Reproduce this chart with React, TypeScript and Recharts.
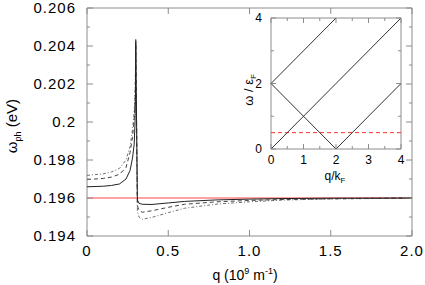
import React from 'react';
import { LineChart, Line, XAxis, YAxis, ReferenceLine, ReferenceArea } from 'recharts';

// q in 1e9 m^-1, omega_ph in eV
const qGrid = [0, 0.1, 0.15, 0.2, 0.24, 0.265, 0.28, 0.29, 0.295, 0.298, 0.3, 0.31, 0.32, 0.34, 0.4, 0.5, 0.6, 0.8, 1.0, 1.2, 1.5, 2.0];
const omegaSolid = [0.19659, 0.19662, 0.19666, 0.19674, 0.197, 0.19745, 0.1981, 0.1988, 0.1998, 0.2012, 0.2042, 0.1959, 0.19572, 0.19567, 0.19566, 0.19574, 0.19582, 0.1959, 0.19594, 0.19597, 0.19599, 0.196];
const omegaDashed = [0.19697, 0.19703, 0.1971, 0.19725, 0.1976, 0.1984, 0.1992, 0.2001, 0.2009, 0.202, 0.2043, 0.1956, 0.19535, 0.19525, 0.19533, 0.19551, 0.19567, 0.1958, 0.19587, 0.19592, 0.19596, 0.196];
const omegaDashDot = [0.19719, 0.19727, 0.19737, 0.19756, 0.198, 0.1987, 0.1996, 0.2005, 0.2013, 0.2026, 0.2044, 0.1953, 0.195, 0.19488, 0.19498, 0.19523, 0.19546, 0.19568, 0.1958, 0.19589, 0.19595, 0.19599];
const bareLevel = 0.196;

const xTicks = [0, 0.5, 1, 1.5, 2];
const xTickLabels = ['0', '0.5', '1.0', '1.5', '2.0'];
const yMajorTicks = [0.194, 0.196, 0.198, 0.2, 0.202, 0.204, 0.206];
const yTickLabels = ['0.194', '0.196', '0.198', '0.2', '0.202', '0.204', '0.206'];
const yMinorTicks = [0.195, 0.197, 0.199, 0.201, 0.203, 0.205];

// inset: omega/eF vs q/kF, continuum boundaries
const insetSegQ = [[0, 2], [0, 4], [2, 4], [0, 2]];
const insetSegW = [[2, 4], [0, 4], [0, 2], [2, 0]];
const insetXTicks = [0, 1, 2, 3, 4];
const insetXMinor = [0.5, 1.5, 2.5, 3.5];
const insetYTicks = [0, 2, 4];
const insetYMinor = [1, 3];
const phononLevel = 0.5;

const rows = qGrid.map((q, i) => ({ q, s: omegaSolid[i], d: omegaDashed[i], dd: omegaDashDot[i] }));
const segments = insetSegQ.map((qs, i) => qs.map((q, j) => ({ q, w: insetSegW[i][j] })));

const FONT = '"Liberation Sans", Arial, Helvetica, sans-serif';
const AXIS = '#8c8c8c';
const P = { left: 87, right: 412, top: 8, bottom: 236 };
const IP = { left: 41, right: 171, top: 8, bottom: 139 };

const near = (arr: number[], v: number) => arr.findIndex((a) => Math.abs(a - v) < 1e-9);

const MainXTick = (props: any) => {
  const { x, payload } = props;
  const i = near(xTicks, payload.value);
  return (
    <g>
      <line x1={x} x2={x} y1={P.bottom} y2={P.bottom - 6} stroke={AXIS} />
      <line x1={x} x2={x} y1={P.top} y2={P.top + 6} stroke={AXIS} />
      <text x={x} y={256} textAnchor="middle" fontSize={15} letterSpacing={1} fontFamily={FONT} fill="#000">
        {xTickLabels[i]}
      </text>
    </g>
  );
};

const MainYTick = (props: any) => {
  const { y, payload } = props;
  const i = near(yMajorTicks, payload.value);
  const len = i >= 0 ? 6 : 3;
  return (
    <g>
      <line x1={P.left} x2={P.left + len} y1={y} y2={y} stroke={AXIS} />
      <line x1={P.right} x2={P.right - len} y1={y} y2={y} stroke={AXIS} />
      {i >= 0 && (
        <text x={76} y={y} dy="0.36em" textAnchor="end" fontSize={15} letterSpacing={1} fontFamily={FONT} fill="#000">
          {yTickLabels[i]}
        </text>
      )}
    </g>
  );
};

const InsetXTick = (props: any) => {
  const { x, payload } = props;
  const major = near(insetXTicks, payload.value) >= 0;
  const len = major ? 5 : 3;
  return (
    <g>
      <line x1={x} x2={x} y1={IP.bottom} y2={IP.bottom - len} stroke={AXIS} />
      <line x1={x} x2={x} y1={IP.top} y2={IP.top + len} stroke={AXIS} />
      {major && (
        <text x={x} y={154} textAnchor="middle" fontSize={12} fontFamily={FONT} fill="#000">
          {payload.value}
        </text>
      )}
    </g>
  );
};

const InsetYTick = (props: any) => {
  const { y, payload } = props;
  const major = near(insetYTicks, payload.value) >= 0;
  const len = major ? 5 : 3;
  return (
    <g>
      <line x1={IP.left} x2={IP.left + len} y1={y} y2={y} stroke={AXIS} />
      <line x1={IP.right} x2={IP.right - len} y1={y} y2={y} stroke={AXIS} />
      {major && (
        <text x={32} y={y} dy="0.36em" textAnchor="end" fontSize={12} fontFamily={FONT} fill="#000">
          {payload.value}
        </text>
      )}
    </g>
  );
};

const mainXLabel = () => (
  <text x={245} y={280} textAnchor="middle" fontSize={14} fontFamily={FONT} fill="#000">
    q (10<tspan fontSize={9} dy={-6}>9</tspan>
    <tspan dy={6}> m</tspan>
    <tspan fontSize={9} dy={-6}>-1</tspan>
    <tspan dy={6}>)</tspan>
  </text>
);

const mainYLabel = () => (
  <text x={17} y={126} transform="rotate(-90, 17, 126)" textAnchor="middle" fontSize={15} fontFamily={FONT} fill="#000">
    ω<tspan fontSize={9} dy={4}>ph</tspan>
    <tspan dy={-4}> (eV)</tspan>
  </text>
);

const insetXLabel = () => (
  <text x={105} y={170} textAnchor="middle" fontSize={12} fontFamily={FONT} fill="#000">
    q/k<tspan fontSize={8} dy={3}>F</tspan>
  </text>
);

const insetYLabel = () => (
  <text x={23} y={80} transform="rotate(-90, 23, 80)" textAnchor="middle" fontSize={13} fontFamily={FONT} fill="#000">
    ω / ε<tspan fontSize={8} dy={3}>F</tspan>
  </text>
);

export default function App() {
  return (
    <div style={{ position: 'absolute', left: 0, top: 0, width: 425, height: 285, background: '#fff' }}>
      <LineChart width={425} height={285} data={rows} margin={{ top: 8, right: 13, left: 0, bottom: 0 }}>
        <XAxis
          dataKey="q"
          type="number"
          domain={[0, 2]}
          ticks={xTicks}
          interval={0}
          height={49}
          axisLine={false}
          tickLine={false}
          tick={<MainXTick />}
          label={mainXLabel}
        />
        <YAxis
          type="number"
          domain={[0.194, 0.206]}
          ticks={[...yMajorTicks, ...yMinorTicks]}
          interval={0}
          width={87}
          allowDataOverflow
          axisLine={false}
          tickLine={false}
          tick={<MainYTick />}
          label={mainYLabel}
        />
        <ReferenceArea x1={0} x2={2} y1={0.194} y2={0.206} fill="none" stroke={AXIS} strokeWidth={1} ifOverflow="visible" />
        <ReferenceLine y={bareLevel} stroke="#ff4545" strokeWidth={1} />
        <Line type="linear" dataKey="dd" stroke="#707070" strokeWidth={1} strokeDasharray="3 2 1 2" dot={false} isAnimationActive={false} />
        <Line type="linear" dataKey="d" stroke="#444" strokeWidth={1} strokeDasharray="4 3" dot={false} isAnimationActive={false} />
        <Line type="linear" dataKey="s" stroke="#222" strokeWidth={1} dot={false} isAnimationActive={false} />
      </LineChart>

      <div style={{ position: 'absolute', left: 230, top: 10 }}>
        <LineChart width={180} height={175} margin={{ top: 8, right: 9, left: 0, bottom: 0 }}>
          <XAxis
            dataKey="q"
            type="number"
            domain={[0, 4]}
            ticks={[...insetXTicks, ...insetXMinor]}
            interval={0}
            height={36}
            axisLine={false}
            tickLine={false}
            tick={<InsetXTick />}
            label={insetXLabel}
          />
          <YAxis
            type="number"
            domain={[0, 4]}
            ticks={[...insetYTicks, ...insetYMinor]}
            interval={0}
            width={41}
            axisLine={false}
            tickLine={false}
            tick={<InsetYTick />}
            label={insetYLabel}
          />
          <ReferenceArea x1={0} x2={4} y1={0} y2={4} fill="#fff" stroke={AXIS} strokeWidth={1} ifOverflow="visible" />
          <ReferenceLine y={phononLevel} stroke="#ff3030" strokeDasharray="4 3" strokeWidth={1} />
          {segments.map((seg, i) => (
            <Line key={i} data={seg} type="linear" dataKey="w" stroke="#333" strokeWidth={1} dot={false} isAnimationActive={false} />
          ))}
        </LineChart>
      </div>
    </div>
  );
}
